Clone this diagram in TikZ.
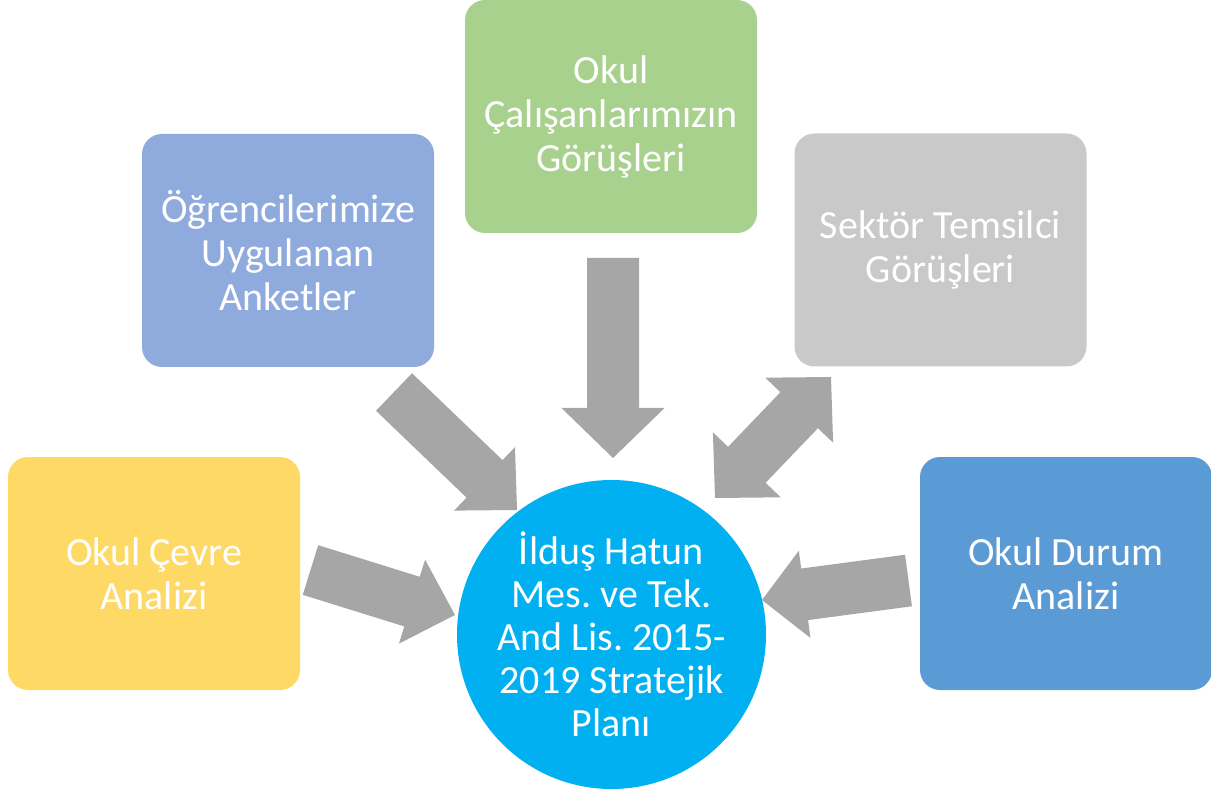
\documentclass[tikz,border=0pt]{standalone}
\usepackage{fontspec}
\setmainfont{Carlito}
\frenchspacing
\usetikzlibrary{calc}
\definecolor{boxyellow}{HTML}{FFD966}
\definecolor{boxlilac}{HTML}{8FAADC}
\definecolor{boxgreen}{HTML}{A9D18E}
\definecolor{boxgray}{HTML}{C9C9C9}
\definecolor{boxblue}{HTML}{5B9BD5}
\definecolor{planblue}{HTML}{00B0F0}
\definecolor{arrowgray}{HTML}{A6A6A6}
\tikzstyle{source}=[rectangle,rounded corners=20pt,minimum width=292pt,minimum height=233pt,inner sep=0pt,align=center,text=white,font=\fontsize{40}{44}\selectfont]
\tikzstyle{plan}=[circle,fill=planblue,minimum size=309pt,inner sep=0pt,align=center,text=white,font=\fontsize{40}{43}\selectfont]
\tikzstyle{fat} = [fill=arrowgray]
% block arrow from #1 to #2, head half width #3, head length #4
\newcommand{\blockarrow}[4]{%
  \path[fat] let \p1=(#1), \p2=(#2),
    \n1={atan2(\y2-\y1,\x2-\x1)}, \n2={veclen(\x2-\x1,\y2-\y1)} in
    [shift={(\p1)}, rotate=\n1]
    (0,-26) -- (\n2-#4,-26) -- (\n2-#4,-#3) -- (\n2,0) -- (\n2-#4,#3) -- (\n2-#4,26) -- (0,26) -- cycle;}
% same, with a head at both ends
\newcommand{\doublearrow}[4]{%
  \path[fat] let \p1=(#1), \p2=(#2),
    \n1={atan2(\y2-\y1,\x2-\x1)}, \n2={veclen(\x2-\x1,\y2-\y1)} in
    [shift={(\p1)}, rotate=\n1]
    (0,0) -- (#4,-#3) -- (#4,-26) -- (\n2-#4,-26) -- (\n2-#4,-#3) -- (\n2,0)
    -- (\n2-#4,#3) -- (\n2-#4,26) -- (#4,26) -- (#4,#3) -- cycle;}

\begin{document}
\begin{tikzpicture}[x=1pt,y=-1pt]
	\useasboundingbox (0,0) rectangle (1211,794);

	% First we draw the sources and the plan
	\foreach \pos/\name/\col/\txt in {{(154,573.5)/cevre/boxyellow/{Okul Çevre\\Analizi}},
		{(288,250.5)/ogrenci/boxlilac/{Öğrencilerimize\\Uygulanan\\Anketler}},
		{(611,116.5)/calisan/boxgreen/{Okul\\Çalışanlarımızın\\Görüşleri}},
		{(940.5,250)/sektor/boxgray/{Sektör Temsilci\\Görüşleri}},
		{(1066,573.5)/durum/boxblue/{Okul Durum\\Analizi}}}
	\node[source,fill=\col] (\name) at \pos {\txt};

	\node[plan] (plan) at (611.5,634.5) {İlduş Hatun\\Mes. ve Tek.\\And Lis. 2015-\\2019 Stratejik\\Planı};

	% Ends of the fat arrows
	\foreach \pos/\name in {{(310.5,570)/cevre-a}, {(455,615)/cevre-b},
		{(394,392)/ogrenci-a}, {(517,510)/ogrenci-b},
		{(613,258)/calisan-a}, {(613,458)/calisan-b},
		{(908.5,580.5)/durum-a}, {(762,600)/durum-b},
		{(715,498)/sektor-a}, {(831,377)/sektor-b}}
	\node[coordinate] (\name) at \pos {};

	% Connect sources with the plan
	\foreach \source/\hw/\hl in {cevre/44/45, ogrenci/44/45, calisan/51.5/50, durum/44/43}
	\blockarrow{\source-a}{\source-b}{\hw}{\hl};

	\doublearrow{sektor-a}{sektor-b}{47}{46};
\end{tikzpicture}
\end{document}
